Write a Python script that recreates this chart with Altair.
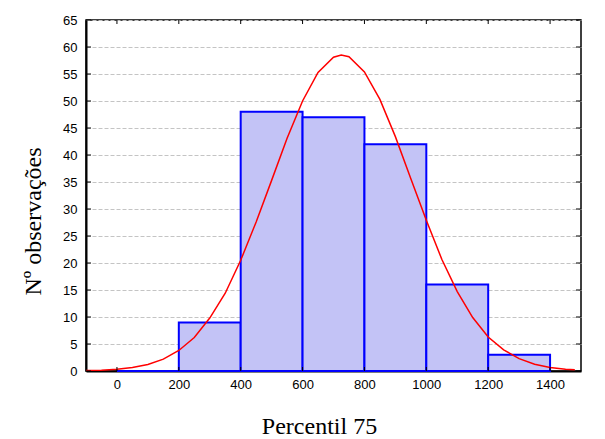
import altair as alt
import pandas as pd

# Histogram bins (Percentil 75) and counts
bin_start = [0, 200, 400, 600, 800, 1000, 1200]
bin_end = [200, 400, 600, 800, 1000, 1200, 1400]
counts = [0, 9, 48, 47, 42, 16, 3]

# Fitted (normal) curve
curve_x = [-100, -50, 0, 50, 100, 150, 200, 250, 300, 350, 400, 450, 500, 550,
           600, 650, 700, 725, 750, 800, 850, 900, 950, 1000, 1050, 1100, 1150,
           1200, 1250, 1300, 1350, 1400, 1450, 1480]
curve_y = [0.07, 0.15, 0.32, 0.65, 1.2, 2.2, 3.8, 6.2, 9.8, 14.4, 20.5, 27.6,
           35.3, 43.1, 50.0, 55.3, 58.1, 58.5, 58.2, 55.4, 50.3, 43.4, 35.6,
           27.9, 20.7, 14.7, 9.9, 6.3, 3.9, 2.3, 1.25, 0.66, 0.33, 0.22]

x_ticks = [0, 200, 400, 600, 800, 1000, 1200, 1400]
y_ticks = [0, 5, 10, 15, 20, 25, 30, 35, 40, 45, 50, 55, 60, 65]

W, H = 495, 351

bars_df = pd.DataFrame({"start": bin_start, "end": bin_end, "count": counts})
curve_df = pd.DataFrame({"x": curve_x, "y": curve_y})
xt_df = pd.DataFrame({"t": x_ticks})
yt_df = pd.DataFrame({"t": y_ticks})

xscale = alt.Scale(domain=[-100, 1500], nice=False, zero=False)
yscale = alt.Scale(domain=[0, 65], nice=False)

xaxis = alt.Axis(values=x_ticks, format="d", title="Percentil 75",
                 ticks=False, grid=False, labelPadding=7,
                 domainColor="black", domainWidth=2,
                 titleFont="Liberation Serif", titleFontSize=24,
                 titleFontWeight="normal", titleColor="black",
                 titleX=233, titleY=62, titleBaseline="alphabetic",
                 titleAlign="center")
yaxis = alt.Axis(values=y_ticks, title="Nº observações",
                 ticks=False, grid=True, gridColor="#c4c4c4",
                 gridDash=[4, 2], gridWidth=1, labelPadding=9,
                 domainColor="black", domainWidth=2,
                 titleFont="Liberation Serif", titleFontSize=24,
                 titleFontWeight="normal", titleColor="black",
                 titleAngle=-90, titleX=-46, titleY=201,
                 titleBaseline="alphabetic", titleAlign="center")

bars = alt.Chart(bars_df).mark_rect(
    fill="#c3c3f6", stroke="#0000ff", strokeWidth=2
).encode(
    x=alt.X("start:Q", scale=xscale, axis=xaxis, title="Percentil 75"),
    x2="end:Q",
    y=alt.Y("count:Q", scale=yscale, axis=yaxis, title="Nº observações"),
    y2=alt.datum(0),
)

curve = alt.Chart(curve_df).mark_line(
    color="#ff0000", strokeWidth=1.5, clip=True
).encode(
    x=alt.X("x:Q", scale=xscale, axis=xaxis, title="Percentil 75"),
    y=alt.Y("y:Q", scale=yscale, axis=yaxis, title="Nº observações"),
)

xt_bottom = alt.Chart(xt_df).mark_rule(color="black", strokeWidth=1).encode(
    x=alt.X("t:Q", scale=xscale, axis=xaxis, title="Percentil 75"),
    y=alt.value(H), y2=alt.value(H - 4),
)
xt_top = alt.Chart(xt_df).mark_rule(color="black", strokeWidth=1).encode(
    x=alt.X("t:Q", scale=xscale, axis=xaxis, title="Percentil 75"),
    y=alt.value(0), y2=alt.value(4),
)
yt_left = alt.Chart(yt_df).mark_rule(color="black", strokeWidth=1).encode(
    y=alt.Y("t:Q", scale=yscale, axis=yaxis, title="Nº observações"),
    x=alt.value(0), x2=alt.value(5),
)
yt_right = alt.Chart(yt_df).mark_rule(color="black", strokeWidth=1).encode(
    y=alt.Y("t:Q", scale=yscale, axis=yaxis, title="Nº observações"),
    x=alt.value(W), x2=alt.value(W - 5),
)

chart = alt.layer(
    bars, curve, xt_bottom, xt_top, yt_left, yt_right
).properties(
    width=W, height=H,
    autosize=alt.AutoSizeParams(type="none"),
    padding={"left": 78, "top": 12, "right": 16, "bottom": 68},
    background="white",
).configure_view(
    stroke="black", strokeWidth=1.5
).configure_axis(
    labelFont="Liberation Sans", labelFontSize=13, labelColor="black",
)

chart.save("out.html", embed_options={"renderer": "svg", "actions": False})
